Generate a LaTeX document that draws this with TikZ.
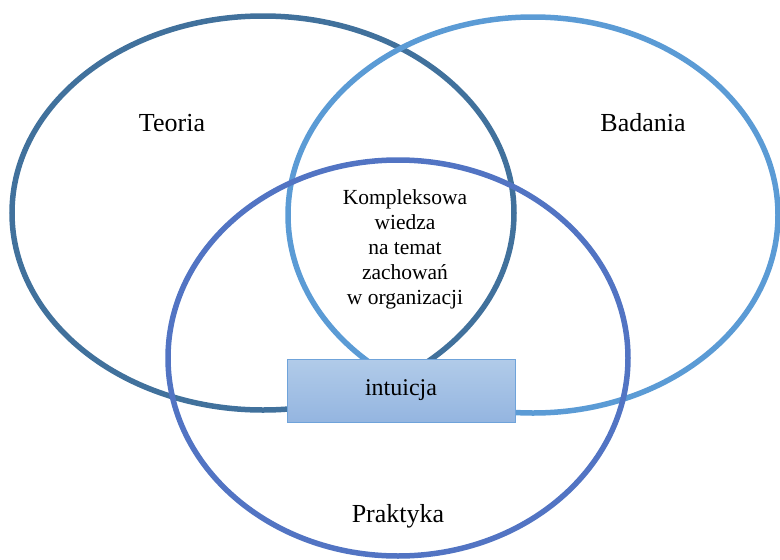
\documentclass[tikz,border=0pt]{standalone}
\usepackage{fontspec}
\setmainfont{Liberation Serif}
\begin{document}
\begin{tikzpicture}[x=1pt,y=-1pt,
  ring/.style={line width=5.5pt},
  label/.style={font=\fontsize{26}{30}\selectfont, inner sep=0pt},
  core/.style={font=\fontsize{21.5}{25}\selectfont, align=center, inner sep=0pt},
  intubox/.style={draw=boxedge, line width=0.8pt, top color=boxtop, bottom color=boxbot,
    minimum width=228pt, minimum height=63pt, inner sep=0pt, font=\fontsize{24}{28}\selectfont}]
  \definecolor{teoc}{HTML}{41719C}
  \definecolor{badc}{HTML}{5B9BD5}
  \definecolor{prac}{HTML}{5274C3}
  \definecolor{boxtop}{HTML}{B1CBE9}
  \definecolor{boxbot}{HTML}{94B5E0}
  \definecolor{boxedge}{HTML}{6FA3DA}
  \useasboundingbox (0,0) rectangle (780,560);
  % three overlapping fields
  \draw[ring, teoc] (263,213) ellipse [x radius=251, y radius=197];
  \draw[ring, badc] (533,215) ellipse [x radius=245, y radius=198];
  \draw[ring, prac] (398,358) ellipse [x radius=230, y radius=198];
  % labels
  \node[label] (teoria) at (172,123) {Teoria};
  \node[label] (badania) at (643,123) {Badania};
  \node[label] (praktyka) at (398,516) {Praktyka};
  \node[core] (wiedza) at (405,249) {Kompleksowa\\wiedza\\na temat\\zachowań\\w organizacji};
  \node[intubox] (intuicja) at (401,390.5) {intuicja};
\end{tikzpicture}
\end{document}
